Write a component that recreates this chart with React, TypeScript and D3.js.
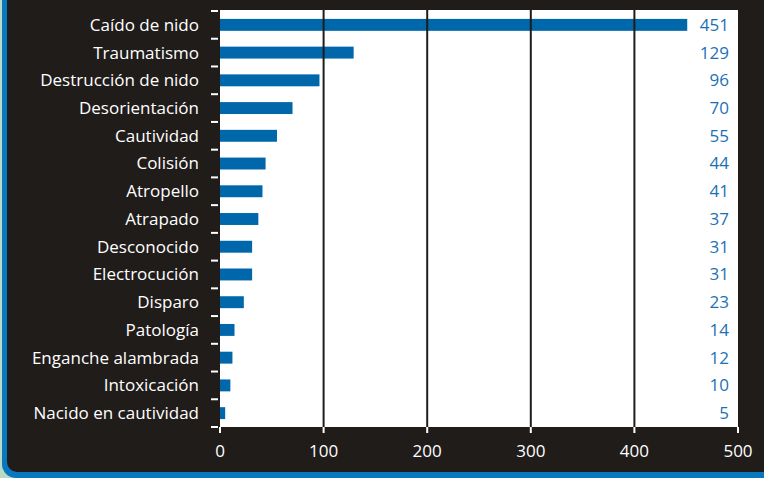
import { useEffect, useRef } from "react";
import * as d3 from "d3";

const causes = [
  "Caído de nido",
  "Traumatismo",
  "Destrucción de nido",
  "Desorientación",
  "Cautividad",
  "Colisión",
  "Atropello",
  "Atrapado",
  "Desconocido",
  "Electrocución",
  "Disparo",
  "Patología",
  "Enganche alambrada",
  "Intoxicación",
  "Nacido en cautividad",
];
const counts = [451, 129, 96, 70, 55, 44, 41, 37, 31, 31, 23, 14, 12, 10, 5];
const xTicks = [0, 100, 200, 300, 400, 500];

const W = 764;
const H = 478;
const FONT = "'Open Sans', sans-serif";

const App = () => {
  const svgRef = useRef<SVGSVGElement>(null);

  useEffect(() => {
    const svg = d3.select(svgRef.current);
    svg.selectAll("*").remove();

    const left = 220;
    const right = 738;
    const top = 11;
    const bottom = 427;

    const x = d3.scaleLinear().domain([0, 500]).range([left, right]);
    const y = d3.scaleBand<string>().domain(causes).range([top, bottom]).paddingInner(0.57).paddingOuter(0.285);
    const band = d3.scaleBand<string>().domain(causes).range([top, bottom]);

    // frame
    svg.append("rect").attr("width", W).attr("height", H).attr("fill", "#b7dcc3");
    svg.append("rect").attr("x", 2).attr("y", -20).attr("width", W + 20).attr("height", H + 20)
      .attr("rx", 14).attr("fill", "#0a78c0");
    svg.append("rect").attr("x", 7).attr("y", -20).attr("width", W + 20).attr("height", H + 14)
      .attr("rx", 10).attr("fill", "#201c1a");

    // plot area
    svg.append("rect").attr("x", left).attr("y", top - 1).attr("width", right - left).attr("height", bottom - top + 1)
      .attr("fill", "#fff");

    // bars
    svg.append("g").selectAll("rect").data(causes).join("rect")
      .attr("x", x(0))
      .attr("y", (d) => y(d)!)
      .attr("width", (_, i) => x(counts[i]) - x(0))
      .attr("height", y.bandwidth())
      .attr("fill", "#0067ab");

    // grid lines + ticks
    const grid = svg.append("g");
    grid.selectAll("line.grid").data(xTicks.filter((t) => t > 0 && t < 500)).join("line")
      .attr("class", "grid")
      .attr("x1", (d) => x(d)).attr("x2", (d) => x(d))
      .attr("y1", top - 1).attr("y2", bottom)
      .attr("stroke", "#201c1a").attr("stroke-width", 2);
    grid.selectAll("line.tick").data(xTicks).join("line")
      .attr("class", "tick")
      .attr("x1", (d) => x(d)).attr("x2", (d) => x(d))
      .attr("y1", bottom).attr("y2", bottom + 6)
      .attr("stroke", "#fff").attr("stroke-width", 2);

    svg.append("g").selectAll("text").data(xTicks).join("text")
      .attr("x", (d) => x(d))
      .attr("y", 457)
      .attr("text-anchor", "middle")
      .attr("fill", "#fff")
      .attr("font-family", FONT)
      .attr("font-size", 17)
      .text((d) => d);

    // category ticks
    const catTicks = causes.map((c) => band(c)!).concat([bottom]);
    svg.append("g").selectAll("line").data(catTicks).join("line")
      .attr("x1", 211).attr("x2", 218)
      .attr("y1", (d) => d).attr("y2", (d) => d)
      .attr("stroke", "#fff").attr("stroke-width", 2);

    // category labels
    svg.append("g").selectAll("text").data(causes).join("text")
      .attr("x", 199)
      .attr("y", (d) => band(d)! + band.bandwidth() / 2)
      .attr("dy", "0.35em")
      .attr("text-anchor", "end")
      .attr("fill", "#fff")
      .attr("font-family", FONT)
      .attr("font-size", 17)
      .text((d) => d);

    // value labels
    svg.append("g").selectAll("text").data(causes).join("text")
      .attr("x", 729)
      .attr("y", (d) => band(d)! + band.bandwidth() / 2)
      .attr("dy", "0.35em")
      .attr("text-anchor", "end")
      .attr("fill", "#1b71b6")
      .attr("font-family", FONT)
      .attr("font-size", 17)
      .text((_, i) => counts[i]);
  }, []);

  return <svg ref={svgRef} width={W} height={H} style={{ position: "absolute", left: 0, top: 0 }} />;
};

export default App;
